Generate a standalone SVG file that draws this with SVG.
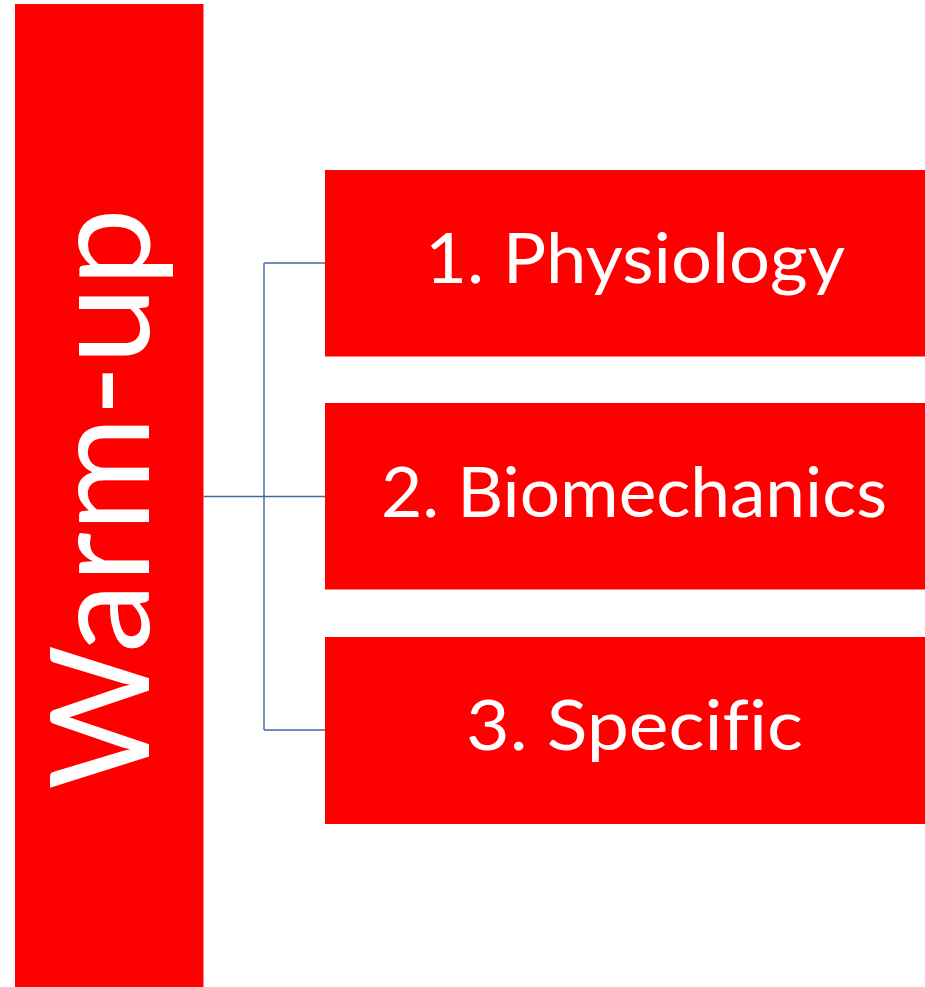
<svg xmlns="http://www.w3.org/2000/svg" width="925" height="987" viewBox="0 0 925 987">
  <style>
    .box { fill: #ff0000; }
    .label { fill: #ffffff; font-family: "Lato", "Open Sans", "Liberation Sans", sans-serif; font-variant-ligatures: none; }
    .item { font-size: 70px; text-anchor: middle; }
    .link { fill: none; stroke: #4466a6; stroke-width: 1.4; }
  </style>
  <rect width="925" height="987" fill="#ffffff"/>

  <!-- connectors: root to the three items -->
  <g id="connectors">
    <path class="link" d="M203.5,496.5 H264"/>
    <path class="link" d="M264,263 V730"/>
    <path class="link" d="M264,263 H325"/>
    <path class="link" d="M264,496.5 H325"/>
    <path class="link" d="M264,730 H325"/>
  </g>

  <g id="warm-up">
    <rect class="box" x="15" y="4" width="188.5" height="983"/>
    <text class="label" font-size="137" text-anchor="middle" transform="translate(149,499) rotate(-90)" textLength="582" lengthAdjust="spacingAndGlyphs">Warm-up</text>
  </g>

  <g id="physiology">
    <rect class="box" x="325" y="170" width="600" height="186.5"/>
    <text class="label item" x="635" y="283" textLength="420" lengthAdjust="spacingAndGlyphs">1. Physiology</text>
  </g>

  <g id="biomechanics">
    <rect class="box" x="325" y="403" width="600" height="186.5"/>
    <text class="label item" x="634" y="517" textLength="506" lengthAdjust="spacingAndGlyphs">2. Biomechanics</text>
  </g>

  <g id="specific">
    <rect class="box" x="325" y="637" width="600" height="187"/>
    <text class="label item" x="634.5" y="750" textLength="337" lengthAdjust="spacingAndGlyphs">3. Specific</text>
  </g>
</svg>
